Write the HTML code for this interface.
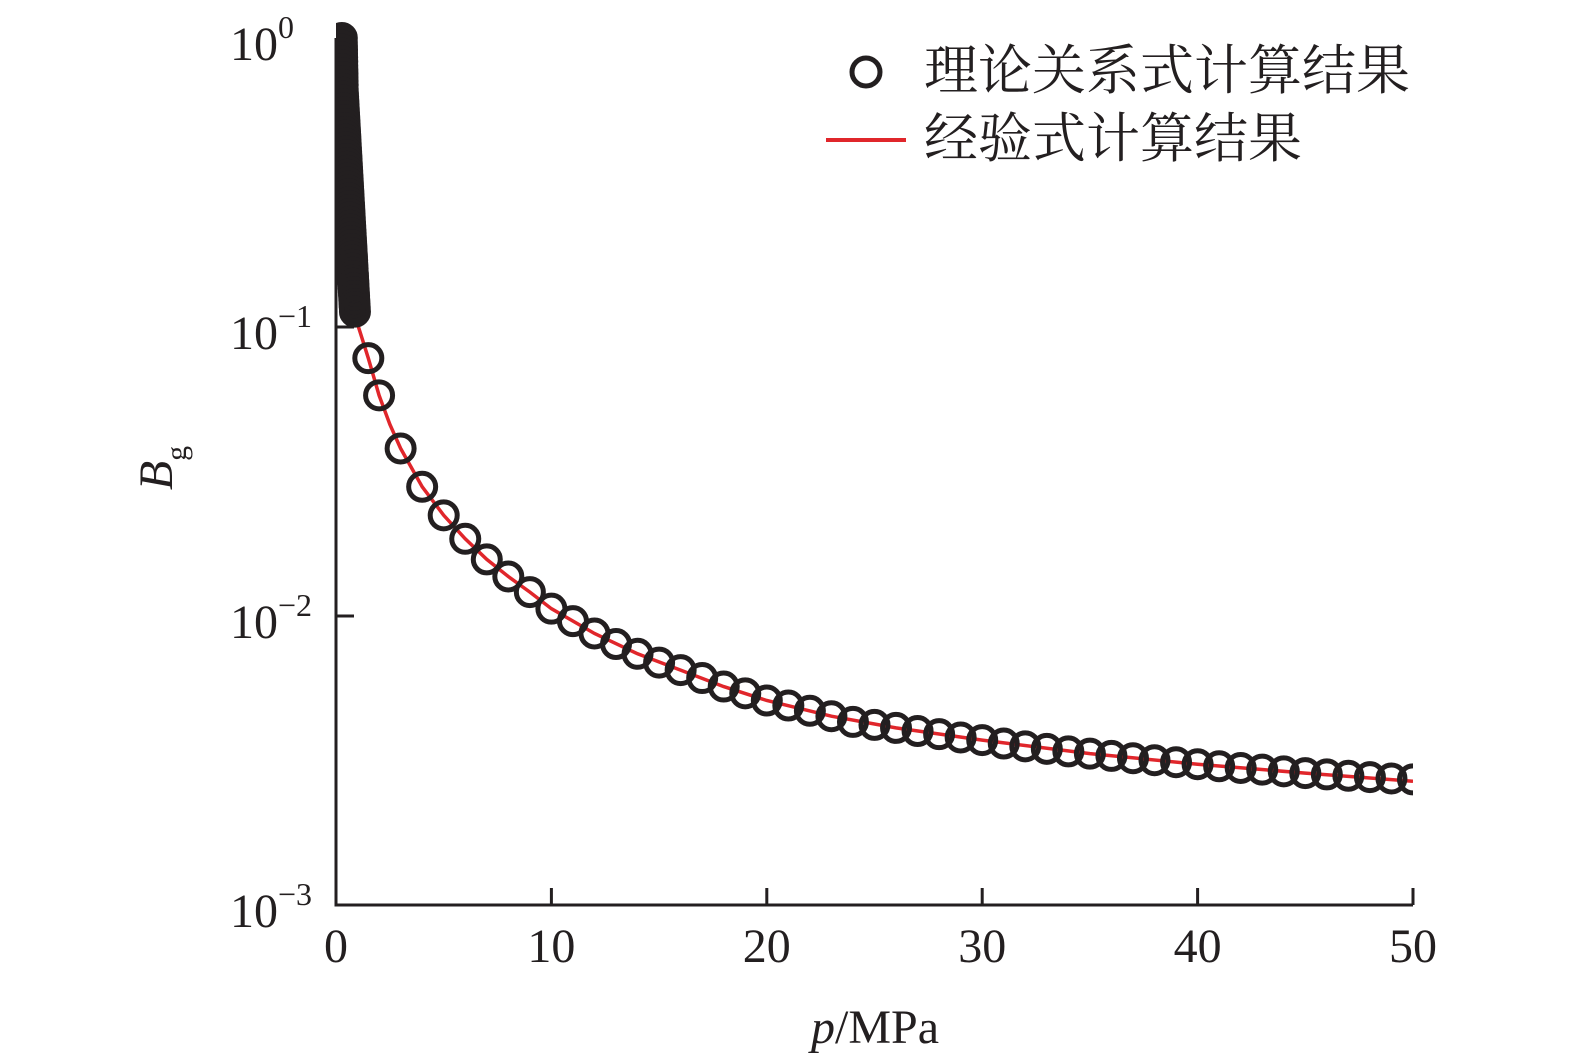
<!DOCTYPE html>
<html><head><meta charset="utf-8">
<style>
html,body{margin:0;padding:0;background:#fff;}
svg{display:block;}
.tk{font-family:"Liberation Serif","Noto Serif CJK SC",serif;font-size:48px;fill:#231f20;}
.lg{font-family:"Liberation Serif","Noto Serif CJK SC",serif;font-size:54px;fill:#231f20;}
</style></head>
<body>
<svg id="chart" width="1575" height="1064" viewBox="0 0 1575 1064" xmlns="http://www.w3.org/2000/svg">
<defs><clipPath id="plotclip"><rect x="336" y="0" width="1077" height="905"/></clipPath></defs>
<g id="marks" clip-path="url(#plotclip)"></g>
<g id="axes"></g>
</svg>
<script>
const xTicks=[0,10,20,30,40,50];
const yTickExp=[0,-1,-2,-3];
const yTickLabels=["10","10","10","10"];
const yTickSup=["0","\u22121","\u22122","\u22123"];
// dense low-pressure theoretical points
const pDense=[0.27,0.27,0.275,0.28,0.28,0.285,0.29,0.29,0.295,0.30,0.30,0.305,0.31,0.31,0.32,0.33,0.34,0.35,0.36,0.37,0.38,0.39,0.40,0.41,0.42,0.43,0.44,0.45,0.46,0.47,0.48,0.49,0.50,0.51,0.52,0.53,0.54,0.55,0.56,0.57,0.58,0.59,0.60,0.61,0.62,0.63,0.64,0.65,0.66,0.67,0.68,0.69,0.70,0.71,0.72,0.73,0.74,0.75,0.76,0.77,0.78,0.79,0.80,0.81,0.82,0.83,0.84,0.85,0.86,0.87,0.88];
const bgDense=[1.000,0.969,0.940,0.911,0.883,0.856,0.829,0.804,0.779,0.755,0.732,0.710,0.688,0.667,0.646,0.626,0.607,0.589,0.571,0.553,0.536,0.520,0.504,0.488,0.473,0.459,0.445,0.431,0.418,0.405,0.393,0.381,0.369,0.358,0.347,0.336,0.326,0.316,0.306,0.297,0.288,0.279,0.270,0.262,0.254,0.246,0.239,0.231,0.224,0.217,0.211,0.204,0.198,0.192,0.186,0.180,0.175,0.170,0.164,0.159,0.154,0.150,0.145,0.141,0.136,0.132,0.128,0.124,0.120,0.117,0.113];
// integer-pressure theoretical points
const pInt=[1.5,2,3,4,5,6,7,8,9,10,11,12,13,14,15,16,17,18,19,20,21,22,23,24,25,26,27,28,29,30,31,32,33,34,35,36,37,38,39,40,41,42,43,44,45,46,47,48,49,50];
const bgInt=[0.078,0.058,0.038,0.028,0.0223,0.0185,0.0157,0.0137,0.0121,0.0106,0.0096,0.0087,0.0080,0.0074,0.0069,0.0065,0.0061,0.0057,0.0054,0.0051,0.0049,0.0047,0.0045,0.0043,0.0042,0.0041,0.0040,0.0039,0.0038,0.00372,0.00362,0.00354,0.00347,0.0034,0.00334,0.00328,0.00322,0.00317,0.00312,0.00307,0.00302,0.00298,0.00294,0.0029,0.00286,0.00283,0.0028,0.00277,0.00274,0.00272];
// empirical curve
const pLine=[0.9,1.2,1.5,2,2.5,3,4,5,6,7,8,9,10,12,14,16,18,20,23,26,30,35,40,45,50];
const bgLine=[0.108,0.092,0.078,0.058,0.046,0.038,0.028,0.0223,0.0185,0.0157,0.0137,0.0121,0.0106,0.0087,0.0074,0.0065,0.0057,0.0051,0.0045,0.0041,0.00372,0.00334,0.00307,0.00286,0.00268];

const X0=336,X1=1413,Y0=38,DEC=289;
const xs=p=>X0+(p-0)/50*(X1-X0);
const ys=v=>Y0-Math.log10(v)*DEC;
const NS="http://www.w3.org/2000/svg";
function mk(tag,attrs,parent){const e=document.createElementNS(NS,tag);for(const k in attrs)e.setAttribute(k,attrs[k]);parent.appendChild(e);return e;}
const marks=document.getElementById('marks');
const axes=document.getElementById('axes');
const svg=document.getElementById('chart');

let d='';pLine.forEach((p,i)=>{d+=(i?'L':'M')+xs(p).toFixed(1)+','+ys(bgLine[i]).toFixed(1);});
const ln=mk('path',{d:d,fill:'none',stroke:'#e0262b','stroke-width':3.5},marks);



function circ(p,v){const c=mk('circle',{cx:xs(p),cy:ys(v),r:13.5,fill:'none',stroke:'#231f20','stroke-width':5},marks);

}
pDense.forEach((p,i)=>circ(p,bgDense[i]));
pInt.forEach((p,i)=>circ(p,bgInt[i]));

const ax=mk('path',{d:`M${X0},${Y0} L${X0},905 L${X1},905`,fill:'none',stroke:'#231f20','stroke-width':3},axes);


xTicks.forEach(t=>{const x=xs(t);
 if(t>0){const tk=mk('line',{x1:x,y1:905,x2:x,y2:888,stroke:'#231f20','stroke-width':3},axes);
 
 }
 const tx=mk('text',{x:x,y:962,'text-anchor':'middle',class:'tk'},axes);tx.textContent=t;
 
 
});
yTickExp.forEach((e,i)=>{const y=ys(Math.pow(10,e));
 if(e<0&&e>-3){const tk=mk('line',{x1:X0,y1:y,x2:X0+18,y2:y,stroke:'#231f20','stroke-width':3},axes);
 
 }
 const tx=mk('text',{x:230,y:y+22,class:'tk'},axes);
 
 
 tx.textContent=yTickLabels[i];
 const s=mk('tspan',{dy:-22,'font-size':'32px'},tx);s.textContent=yTickSup[i];
});
const xt=mk('text',{x:875,y:1043,'text-anchor':'middle',class:'tk'},svg);


const ip=mk('tspan',{'font-style':'italic'},xt);ip.textContent='p';
const rp=mk('tspan',{},xt);rp.textContent='/MPa';
const yt=mk('text',{transform:'translate(172,468) rotate(-90)','text-anchor':'middle',class:'tk'},svg);


const ib=mk('tspan',{'font-style':'italic'},yt);ib.textContent='B';
const gb=mk('tspan',{dy:14,'font-size':'30px'},yt);gb.textContent='g';

const lg=mk('g',{},svg);


const lc=mk('circle',{cx:866,cy:72,r:14,fill:'none',stroke:'#231f20','stroke-width':5},lg);


const lt1=mk('text',{x:924,y:89,class:'lg'},lg);lt1.textContent='理论关系式计算结果';


const ll=mk('line',{x1:826,y1:140,x2:906,y2:140,stroke:'#e0262b','stroke-width':4},lg);


const lt2=mk('text',{x:924,y:157,class:'lg'},lg);lt2.textContent='经验式计算结果';


</script>
</body></html>
